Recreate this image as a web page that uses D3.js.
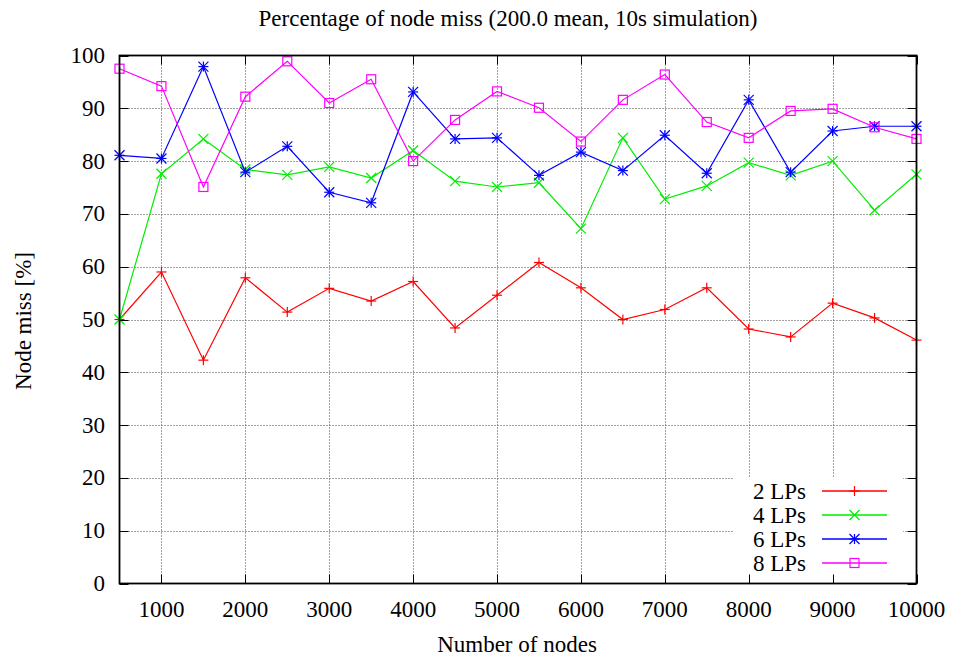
<!DOCTYPE html>
<html><head><meta charset="utf-8">
<script src="https://cdn.jsdelivr.net/npm/d3@7"></script>
<style>body{margin:0;background:#fff}svg{display:block}text{font-family:"Liberation Serif","Times New Roman",serif;fill:#000}</style>
</head><body>
<svg id="c" width="954" height="657"></svg>
<script>
const nodes = [500,1000,1500,2000,2500,3000,3500,4000,4500,5000,5500,6000,6500,7000,7500,8000,8500,9000,9500,10000];
const lp2 = [50.0,59.0,42.3,57.9,51.4,55.9,53.5,57.2,48.4,54.6,60.8,56.0,50.0,51.9,56.0,48.2,46.7,53.1,50.3,46.1];
const lp4 = [50.0,77.6,84.2,78.4,77.4,78.9,76.8,82.0,76.2,75.1,75.9,67.2,84.4,72.8,75.3,79.7,77.3,80.0,70.7,77.5];
const lp6 = [81.1,80.5,97.9,77.9,82.8,74.1,72.1,93.1,84.2,84.4,77.3,81.7,78.2,84.9,77.7,91.6,77.9,85.7,86.6,86.6];
const lp8 = [97.5,94.2,75.1,92.2,98.9,91.0,95.5,80.0,87.8,93.2,90.1,83.7,91.6,96.4,87.4,84.4,89.5,89.9,86.4,84.2];
const seriesNames = ["2 LPs","4 LPs","6 LPs","8 LPs"];
const seriesColors = ["#ff0000","#00ee00","#0000ff","#ff00ff"];
const seriesMarkers = ["plus","cross","star","square"];
const xTicks = [1000,2000,3000,4000,5000,6000,7000,8000,9000,10000];
const yTicks = [0,10,20,30,40,50,60,70,80,90,100];
const titleText = "Percentage of node miss (200.0 mean, 10s simulation)";
const xLabel = "Number of nodes";
const yLabel = "Node miss [%]";

const series = [lp2,lp4,lp6,lp8].map((v,i)=>({name:seriesNames[i],color:seriesColors[i],marker:seriesMarkers[i],values:v}));

const svg = d3.select("#c");
const L=119.5, R=916.5, T=55.5, B=583.5;
const FS = 23;
const x = d3.scaleLinear().domain([500,10000]).range([L,R]);
const y = d3.scaleLinear().domain([0,100]).range([B,T]);

// grid
const grid = svg.append("g");
grid.selectAll("line.gx").data(xTicks.filter(d=>d<10000)).join("line")
  .attr("x1",d=>Math.round(x(d))+0.5).attr("x2",d=>Math.round(x(d))+0.5).attr("y1",T).attr("y2",B)
  .attr("stroke","#444").attr("stroke-width",1).attr("stroke-dasharray","1,2");
grid.selectAll("line.gy").data(yTicks.filter(d=>d>0&&d<100)).join("line")
  .attr("y1",d=>Math.round(y(d))+0.5).attr("y2",d=>Math.round(y(d))+0.5).attr("x1",L).attr("x2",R)
  .attr("stroke","#444").attr("stroke-width",1).attr("stroke-dasharray","1,2");

function marker(g,type,cx,cy,color){
  const s=5;
  const p=g.append("g").attr("stroke",color).attr("stroke-width",1.2).attr("fill","none");
  if(type==="plus"||type==="star"){
    p.append("line").attr("x1",cx-s).attr("x2",cx+s).attr("y1",cy).attr("y2",cy);
    p.append("line").attr("x1",cx).attr("x2",cx).attr("y1",cy-s).attr("y2",cy+s);
  }
  if(type==="cross"||type==="star"){
    p.append("line").attr("x1",cx-s).attr("x2",cx+s).attr("y1",cy-s).attr("y2",cy+s);
    p.append("line").attr("x1",cx-s).attr("x2",cx+s).attr("y1",cy+s).attr("y2",cy-s);
  }
  if(type==="square"){
    p.append("rect").attr("x",cx-4.5).attr("y",cy-4.5).attr("width",9).attr("height",9);
  }
}

const line = d3.line().x((d,i)=>x(nodes[i])).y(d=>y(d));
const plot = svg.append("g");
series.forEach(s=>{
  plot.append("path").datum(s.values).attr("d",line).attr("fill","none").attr("stroke",s.color).attr("stroke-width",1.2);
  s.values.forEach((v,i)=>marker(plot,s.marker,x(nodes[i]),y(v),s.color));
});

// legend
const lg = svg.append("g");
lg.append("rect").attr("x",733).attr("y",478).attr("width",170).attr("height",98).attr("fill","#fff");
series.forEach((s,i)=>{
  const ly = 491 + i*24;
  lg.append("text").attr("x",806).attr("y",ly).attr("dy","0.33em").attr("text-anchor","end").attr("font-size",FS).text(s.name);
  lg.append("line").attr("x1",822).attr("x2",887).attr("y1",ly).attr("y2",ly).attr("stroke",s.color).attr("stroke-width",1.4);
  marker(lg,s.marker,854.5,ly,s.color);
});

// axes border & ticks
const ax = svg.append("g");
const tl=9;
xTicks.forEach(d=>{
  const px=Math.round(x(d))+0.5;
  ax.append("line").attr("x1",px).attr("x2",px).attr("y1",B).attr("y2",B-tl).attr("stroke","#000");
  ax.append("line").attr("x1",px).attr("x2",px).attr("y1",T).attr("y2",T+tl).attr("stroke","#000");
  ax.append("text").attr("x",x(d)).attr("y",609).attr("dy","0.35em").attr("text-anchor","middle").attr("font-size",FS).text(d);
});
yTicks.forEach(d=>{
  const py=Math.round(y(d))+0.5;
  ax.append("line").attr("x1",L).attr("x2",L+tl).attr("y1",py).attr("y2",py).attr("stroke","#000");
  ax.append("line").attr("x1",R).attr("x2",R-tl).attr("y1",py).attr("y2",py).attr("stroke","#000");
  ax.append("text").attr("x",105).attr("y",y(d)).attr("dy","0.33em").attr("text-anchor","end").attr("font-size",FS).text(d);
});
ax.append("rect").attr("x",L).attr("y",T).attr("width",R-L).attr("height",B-T).attr("fill","none").attr("stroke","#000").attr("stroke-width",1.8);

svg.append("text").attr("x",508).attr("y",18).attr("dy","0.35em").attr("text-anchor","middle").attr("font-size",FS).text(titleText);
svg.append("text").attr("x",517).attr("y",644).attr("dy","0.35em").attr("text-anchor","middle").attr("font-size",FS).text(xLabel);
svg.append("text").attr("transform","translate(23,321) rotate(-90)").attr("dy","0.35em").attr("text-anchor","middle").attr("font-size",FS).text(yLabel);
</script>
</body></html>
